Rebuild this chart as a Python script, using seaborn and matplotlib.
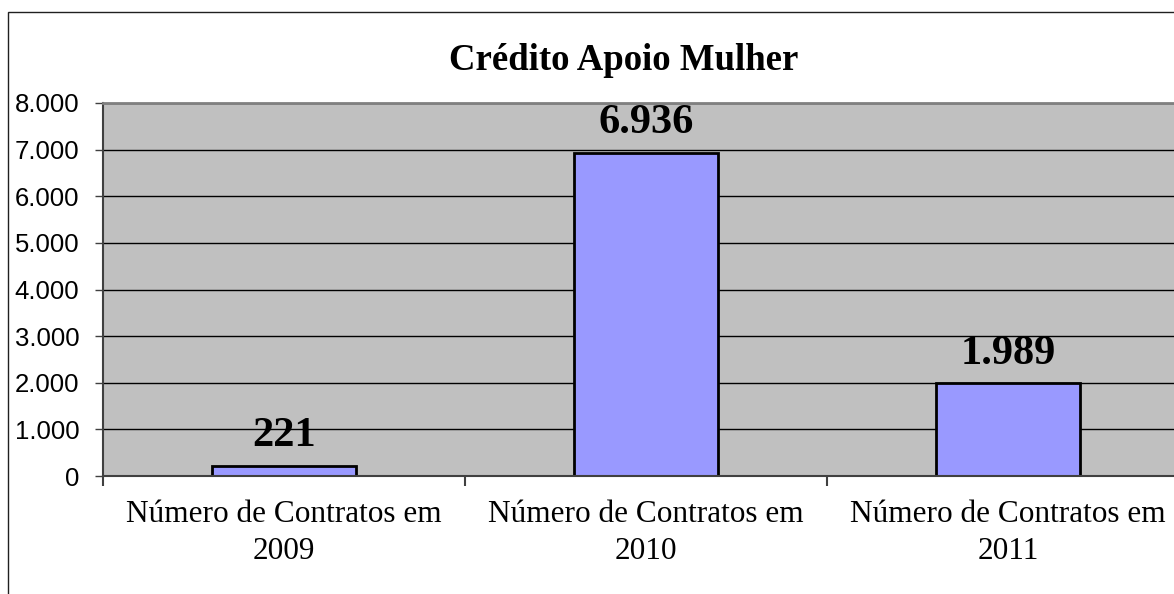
import matplotlib
matplotlib.use("Agg")
import matplotlib.pyplot as plt
from matplotlib.patches import Rectangle
from matplotlib.ticker import FuncFormatter, FixedLocator
import seaborn as sns
import pandas as pd

categories = ["Número de Contratos em\n2009",
              "Número de Contratos em\n2010",
              "Número de Contratos em\n2011"]
contratos = [221, 6936, 1989]
title = "Crédito Apoio Mulher"


def milhar(v, pos=None):
    return f"{v:,.0f}".replace(",", ".")


df = pd.DataFrame({"categoria": categories, "contratos": contratos})

sns.set_style("white")
plt.rcParams.update({"text.color": "black", "xtick.color": "black",
                     "ytick.color": "black"})
fig = plt.figure(figsize=(11.74, 5.94), dpi=100)
ax = fig.add_axes([103 / 1174, 118 / 594, 1086 / 1174, 373 / 594])

sns.barplot(data=df, x="categoria", y="contratos", color="#9999FF",
            saturation=1, width=0.4, edgecolor="black", linewidth=2, ax=ax)

ax.set_facecolor("#C0C0C0")
ax.set_ylim(0, 8000)
ax.set_xlim(-0.5, 2.5)
ax.yaxis.set_major_locator(FixedLocator(range(0, 8001, 1000)))
ax.yaxis.set_major_formatter(FuncFormatter(milhar))
ax.set_axisbelow(True)
ax.yaxis.grid(True, color="black", linewidth=1)
ax.xaxis.grid(False)

for side in ["left", "bottom"]:
    ax.spines[side].set_color("#404040")
    ax.spines[side].set_linewidth(1.5)
ax.spines["top"].set_color("#808080")
ax.spines["top"].set_linewidth(2)
ax.spines["right"].set_color("#808080")

ax.tick_params(axis="y", left=True, length=6, width=1, color="#404040",
               labelsize=18.5, pad=11, labelcolor="black")
ax.tick_params(axis="x", which="major", length=0, labelsize=22.5, pad=17,
               labelcolor="black")
ax.xaxis.set_minor_locator(FixedLocator([-0.5, 0.5, 1.5, 2.5]))
ax.tick_params(axis="x", which="minor", bottom=True, length=7, width=1.5,
               color="#404040")
for lab in ax.get_yticklabels():
    lab.set_family("Liberation Sans")
for lab in ax.get_xticklabels():
    lab.set_family("Liberation Serif")
    lab.set_linespacing(1.4)
ax.set_xlabel("")
ax.set_ylabel("")

for i, v in enumerate(contratos):
    ax.annotate(milhar(v), (i, v), xytext=(0, 14), textcoords="offset points",
                ha="center", va="baseline", fontsize=30.5, fontweight="bold",
                family="Liberation Serif", color="black")

fig.text(624 / 1174, 1 - 61 / 594, title, ha="center", va="center",
         fontsize=26.5, fontweight="bold", family="Liberation Serif",
         color="black")

# moldura do gráfico
fig.patches.append(Rectangle((8 / 1174, -0.1), 1.2, 1.1 - 12 / 594,
                             transform=fig.transFigure, fill=False,
                             edgecolor="#202020", linewidth=1))

fig.savefig("out.png", dpi=100, facecolor="white")
